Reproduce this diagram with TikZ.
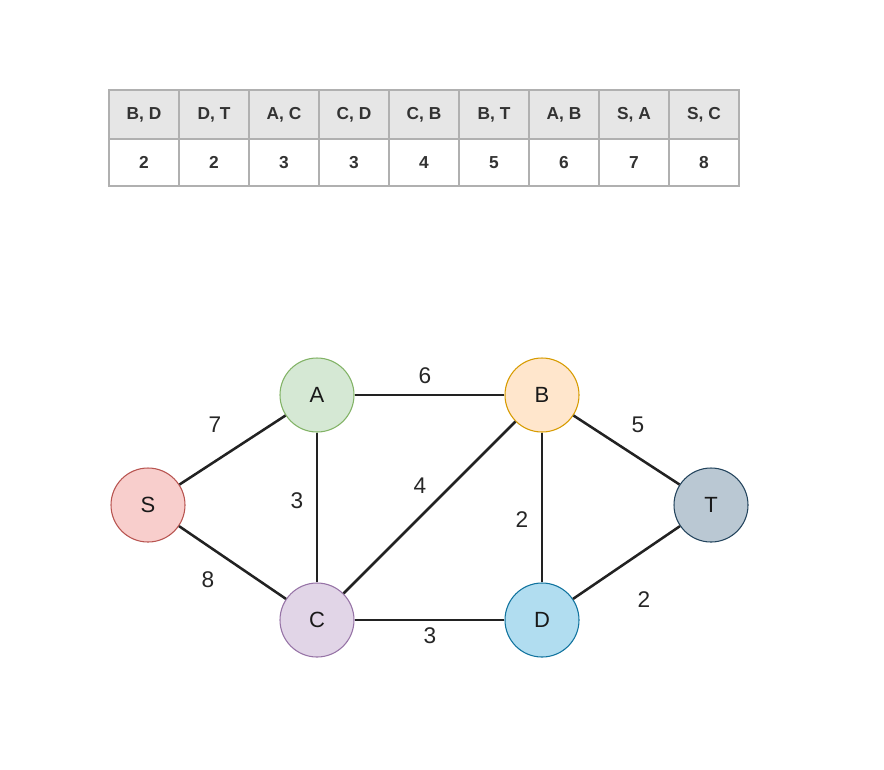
\documentclass[tikz,border=0pt]{standalone}
\usepackage{fontspec}
\setmainfont{Liberation Sans}
\usetikzlibrary{positioning}
\definecolor{EdgeDark}{HTML}{222222}
\definecolor{CellLine}{HTML}{B0B0B0}
\definecolor{CellHead}{HTML}{E6E6E6}
\definecolor{SFill}{HTML}{F8CECC}
\definecolor{SLine}{HTML}{B85450}
\definecolor{AFill}{HTML}{D5E8D4}
\definecolor{ALine}{HTML}{82B366}
\definecolor{BFill}{HTML}{FFE6CC}
\definecolor{BLine}{HTML}{D79B00}
\definecolor{CFill}{HTML}{E1D5E7}
\definecolor{CLine}{HTML}{9673A6}
\definecolor{DFill}{HTML}{B1DDF0}
\definecolor{DLine}{HTML}{10739E}
\definecolor{TFill}{HTML}{BAC8D3}
\definecolor{TLine}{HTML}{23445D}
\tikzset{
  vertex/.style={circle, minimum size=55.5pt, inner sep=0pt, line width=0.8pt, font=\fontsize{16.5}{18}\selectfont, text=black!90},
  headcell/.style={draw=CellLine, line width=1pt, fill=CellHead, minimum width=52.5pt, minimum height=36.75pt, inner sep=0pt, font=\fontsize{13}{15}\selectfont\bfseries, text=black!80},
  valcell/.style={draw=CellLine, line width=1pt, fill=white, minimum width=52.5pt, minimum height=35.25pt, inner sep=0pt, font=\fontsize{13}{15}\selectfont\bfseries, text=black!80},
  edge/.style={draw=EdgeDark, line width=1.9pt},
  weight/.style={font=\fontsize{17}{19}\selectfont, text=black!85}
}

\begin{document}
\begin{tikzpicture}[x=0.75pt, y=-0.75pt]
\useasboundingbox (0,0) rectangle (884,769);
% edge table
\foreach \pair/\w [count=\i] in {{B, D}/2, {D, T}/2, {A, C}/3, {C, D}/3, {C, B}/4, {B, T}/5, {A, B}/6, {S, A}/7, {S, C}/8} {
  \node[headcell] (h\i) at (109+70*\i-35, 114.5) {\pair};
  \node[valcell] (v\i) at (109+70*\i-35, 162.5) {\w};
}

% graph
\node[vertex, draw=SLine, fill=SFill] (S) at (148,505) {S};
\node[vertex, draw=ALine, fill=AFill] (A) at (317,395) {A};
\node[vertex, draw=BLine, fill=BFill] (B) at (542,395) {B};
\node[vertex, draw=CLine, fill=CFill] (C) at (317,620) {C};
\node[vertex, draw=DLine, fill=DFill] (D) at (542,620) {D};
\node[vertex, draw=TLine, fill=TFill] (T) at (711,505) {T};

\draw[edge] (S) -- (A);
\draw[edge] (S) -- (C);
\draw[edge] (A) -- (B);
\draw[edge] (A) -- (C);
\draw[edge] (C) -- (B);
\draw[edge] (C) -- (D);
\draw[edge] (B) -- (D);
\draw[edge] (B) -- (T);
\draw[edge] (D) -- (T);

% weights
\node[weight] (wSA) at (215,425) {7};
\node[weight] (wSC) at (208,580) {8};
\node[weight] (wAB) at (425,376) {6};
\node[weight] (wAC) at (297,501) {3};
\node[weight] (wCB) at (420,486) {4};
\node[weight] (wCD) at (430,636) {3};
\node[weight] (wBD) at (522,520) {2};
\node[weight] (wBT) at (638,425) {5};
\node[weight] (wDT) at (644,600) {2};
\end{tikzpicture}
\end{document}
